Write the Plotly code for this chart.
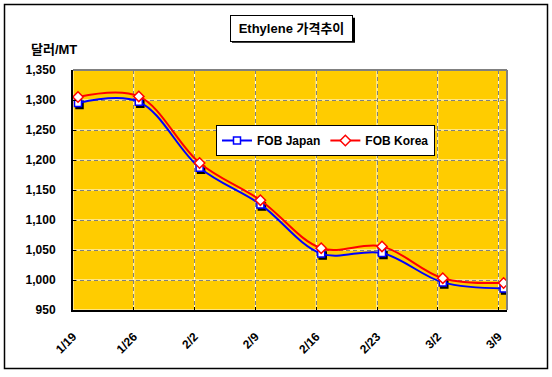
import plotly.graph_objects as go

# ---- data ----
weeks = ["1/19", "1/26", "2/2", "2/9", "2/16", "2/23", "3/2", "3/9"]
fob_japan = [1295, 1297, 1187, 1126, 1044, 1045, 996, 986]
fob_korea = [1305, 1306, 1195, 1133, 1053, 1056, 1003, 995]
y_ticks = [950, 1000, 1050, 1100, 1150, 1200, 1250, 1300, 1350]

# ---- layout geometry (pixels) ----
W, H = 552, 377
L, R, T, B = 73, 45, 70, 67
PW = W - L - R
PH = H - T - B
PX_PER_WEEK = 60.8
TICK_SHIFT = 5 / PX_PER_WEEK
X_RANGE = [-TICK_SHIFT, -TICK_SHIFT + PW / PX_PER_WEEK]
Y_RANGE = [950, 1350]


def px_x(p):
    return (p - L) / PW


def px_y(p):
    return (H - B - p) / PH


FONT = "Liberation Sans, Arial, Noto Sans CJK KR, sans-serif"
KFONT = "Liberation Sans, Noto Sans CJK KR, sans-serif"

x = list(range(len(weeks)))
tickpos = [i - TICK_SHIFT for i in x]

# shadow offset of Japan markers (1.5px right, 2px down)
sdx = 1.5 * (X_RANGE[1] - X_RANGE[0]) / PW
sdy = 2 * (Y_RANGE[1] - Y_RANGE[0]) / PH

fig = go.Figure()
fig.add_trace(go.Scatter(
    x=[v + sdx for v in x], y=[v - sdy for v in fob_japan],
    mode="markers", showlegend=False, hoverinfo="skip",
    marker=dict(symbol="square", size=7, color="black", line=dict(width=1.5, color="black")),
))
fig.add_trace(go.Scatter(
    x=x, y=fob_japan, name="FOB Japan", mode="lines+markers",
    line=dict(color="#0000FF", width=2, shape="spline", smoothing=1),
    marker=dict(symbol="square", size=7, color="white", line=dict(width=1.5, color="#0000FF")),
))
fig.add_trace(go.Scatter(
    x=x, y=fob_korea, name="FOB Korea", mode="lines+markers",
    line=dict(color="#FF0000", width=2, shape="spline", smoothing=1),
    marker=dict(symbol="diamond", size=8, color="white", line=dict(width=1.5, color="#FF0000")),
))

shapes = []
# white under-layer for the two-tone dashed gridlines
for tv in tickpos:
    shapes.append(dict(type="line", xref="x", yref="paper", x0=tv, x1=tv, y0=0, y1=1,
                       line=dict(color="white", width=1), layer="below"))
for tv in y_ticks:
    shapes.append(dict(type="line", xref="paper", yref="y", x0=0, x1=1, y0=tv, y1=tv,
                       line=dict(color="white", width=1), layer="below"))
# gray top / right border of the plot area
shapes.append(dict(type="line", xref="paper", yref="paper", x0=0, x1=1, y0=1, y1=1,
                   line=dict(color="#808080", width=2)))
shapes.append(dict(type="line", xref="paper", yref="paper", x0=1, x1=1, y0=0, y1=1,
                   line=dict(color="#808080", width=2)))
# outer chart border
shapes.append(dict(type="rect", xref="paper", yref="paper",
                   x0=px_x(4.5), x1=px_x(547.5), y0=px_y(368.5), y1=px_y(4.5),
                   line=dict(color="black", width=1.5)))

# title box (centre, size in px) and its drop shadow
TCX, TCY, TBW, TBH, SH = 291.5, 28.3, 123, 25, 2
shapes.append(dict(type="rect", xref="paper", yref="paper",
                   x0=px_x(TCX - TBW / 2 + SH), x1=px_x(TCX + TBW / 2 + SH),
                   y0=px_y(TCY + TBH / 2 + SH), y1=px_y(TCY - TBH / 2 + SH),
                   fillcolor="black", line=dict(width=0)))

annotations = [
    dict(text="<b>Ethylene 가격추이</b>", xref="paper", yref="paper", x=px_x(TCX), y=px_y(TCY),
         xanchor="center", yanchor="middle", showarrow=False,
         width=TBW - 10, height=TBH - 8, align="center", valign="middle",
         font=dict(family=KFONT, size=13, color="black"),
         bgcolor="white", bordercolor="black", borderwidth=1, borderpad=4),
    dict(text="<b>달러/MT</b>", xref="paper", yref="paper", x=px_x(53.5), y=px_y(49),
         xanchor="center", yanchor="middle", showarrow=False,
         font=dict(family=KFONT, size=13, color="black")),
]

fig.update_layout(
    width=W, height=H,
    margin=dict(l=L, r=R, t=T, b=B, pad=0),
    paper_bgcolor="white",
    plot_bgcolor="#FFCC00",
    font=dict(family=FONT, size=12, color="black"),
    showlegend=True,
    legend=dict(orientation="h", x=px_x(216), y=px_y(125), xanchor="left", yanchor="top",
                bgcolor="white", bordercolor="black", borderwidth=1,
                font=dict(family=FONT, size=12, color="black", weight="bold"),
                itemwidth=30, tracegroupgap=0),
    shapes=shapes,
    annotations=annotations,
    xaxis=dict(range=X_RANGE, tickmode="array", tickvals=tickpos, ticktext=weeks,
               tickangle=-45, showgrid=True, gridcolor="#808080", gridwidth=1, griddash="4px,3px",
               showline=True, linecolor="black", linewidth=2, zeroline=False,
               ticks="inside", ticklen=3, tickcolor="black", tickwidth=1,
               tickfont=dict(family=FONT, size=12, color="black", weight="bold"),
               ticklabelstandoff=13, fixedrange=True),
    yaxis=dict(range=Y_RANGE, tickmode="array", tickvals=y_ticks, tickformat=",",
               showgrid=True, gridcolor="#808080", gridwidth=1, griddash="4px,3px",
               showline=True, linecolor="black", linewidth=2, zeroline=False,
               ticks="inside", ticklen=3, tickcolor="black", tickwidth=1,
               tickfont=dict(family=FONT, size=12, color="black", weight="bold"),
               ticklabelstandoff=13, fixedrange=True),
)

fig.write_html("out.html")
